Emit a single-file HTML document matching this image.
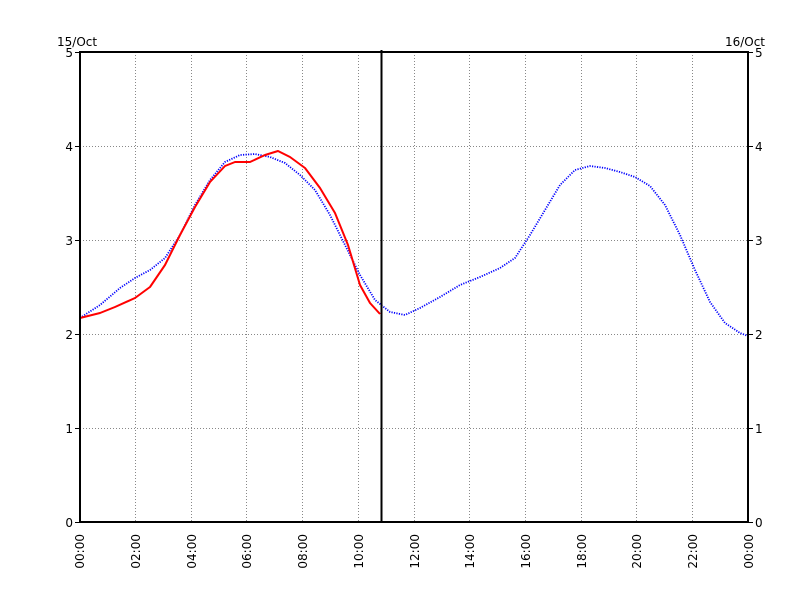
<!DOCTYPE html>
<html><head><style>
body{margin:0;background:#fff}
svg{display:block}
text{font-family:"DejaVu Sans","Liberation Sans",sans-serif;font-size:12px;fill:#000}
</style></head><body>
<svg width="800" height="600" viewBox="0 0 800 600">
<g stroke="#888" stroke-width="1" stroke-dasharray="1 2" fill="none">
<line x1="80" y1="146.5" x2="748" y2="146.5"/>
<line x1="80" y1="240.5" x2="748" y2="240.5"/>
<line x1="80" y1="334.5" x2="748" y2="334.5"/>
<line x1="80" y1="428.5" x2="748" y2="428.5"/>
<line x1="135.5" y1="52" x2="135.5" y2="522"/>
<line x1="191.5" y1="52" x2="191.5" y2="522"/>
<line x1="246.5" y1="52" x2="246.5" y2="522"/>
<line x1="302.5" y1="52" x2="302.5" y2="522"/>
<line x1="358.5" y1="52" x2="358.5" y2="522"/>
<line x1="414.5" y1="52" x2="414.5" y2="522"/>
<line x1="469.5" y1="52" x2="469.5" y2="522"/>
<line x1="525.5" y1="52" x2="525.5" y2="522"/>
<line x1="581.5" y1="52" x2="581.5" y2="522"/>
<line x1="636.5" y1="52" x2="636.5" y2="522"/>
<line x1="692.5" y1="52" x2="692.5" y2="522"/>
</g>
<polyline fill="none" stroke="#00f" stroke-width="1.8" stroke-dasharray="1.2 1.3" stroke-linejoin="round" points="80,318 100,305 120,288 135,278 150,270 165,258 180,235 195,205 210,180 225,162 240,155 255,154 270,157 285,163 300,175 315,190 330,215 345,245 360,275 375,300 390,312 405,315 420,308 440,297 460,285 480,277 500,268 515,258 530,235 545,210 560,185 575,170 590,166 605,168 620,172 635,177 650,186 665,205 680,235 695,270 710,302 725,323 740,333 748,336"/>
<polyline fill="none" stroke="#f00" stroke-width="2" stroke-linejoin="round" points="80,318 100,313 115,307 135,298 150,287 165,265 180,235 195,207 210,182 225,166 235,162 250,162 265,155 278,151 290,157 305,168 320,188 335,213 348,245 360,285 370,303 380,314"/>
<line x1="381.5" y1="50" x2="381.5" y2="523" stroke="#000" stroke-width="2"/>
<rect x="80" y="52" width="668" height="470" fill="none" stroke="#000" stroke-width="2"/>
<g stroke="#000" stroke-width="1">
<line x1="75" y1="52.5" x2="80" y2="52.5"/><line x1="75" y1="146.5" x2="80" y2="146.5"/><line x1="75" y1="240.5" x2="80" y2="240.5"/><line x1="75" y1="334.5" x2="80" y2="334.5"/><line x1="75" y1="428.5" x2="80" y2="428.5"/><line x1="75" y1="522.5" x2="80" y2="522.5"/>
<line x1="748" y1="52.5" x2="753" y2="52.5"/><line x1="748" y1="146.5" x2="753" y2="146.5"/><line x1="748" y1="240.5" x2="753" y2="240.5"/><line x1="748" y1="334.5" x2="753" y2="334.5"/><line x1="748" y1="428.5" x2="753" y2="428.5"/><line x1="748" y1="522.5" x2="753" y2="522.5"/>
</g>
<g text-anchor="end">
<text x="73" y="57">5</text><text x="73" y="151">4</text><text x="73" y="245">3</text><text x="73" y="339">2</text><text x="73" y="433">1</text><text x="73" y="527">0</text>
</g>
<g>
<text x="755" y="57">5</text><text x="755" y="151">4</text><text x="755" y="245">3</text><text x="755" y="339">2</text><text x="755" y="433">1</text><text x="755" y="527">0</text>
</g>
<text x="57" y="46">15/Oct</text>
<text x="765" y="46" text-anchor="end">16/Oct</text>
<g text-anchor="end">
<text transform="translate(84,534) rotate(-90)">00:00</text>
<text transform="translate(140,534) rotate(-90)">02:00</text>
<text transform="translate(196,534) rotate(-90)">04:00</text>
<text transform="translate(251,534) rotate(-90)">06:00</text>
<text transform="translate(307,534) rotate(-90)">08:00</text>
<text transform="translate(363,534) rotate(-90)">10:00</text>
<text transform="translate(419,534) rotate(-90)">12:00</text>
<text transform="translate(474,534) rotate(-90)">14:00</text>
<text transform="translate(530,534) rotate(-90)">16:00</text>
<text transform="translate(586,534) rotate(-90)">18:00</text>
<text transform="translate(641,534) rotate(-90)">20:00</text>
<text transform="translate(697,534) rotate(-90)">22:00</text>
<text transform="translate(753,534) rotate(-90)">00:00</text>
</g>
</svg>
</body></html>
